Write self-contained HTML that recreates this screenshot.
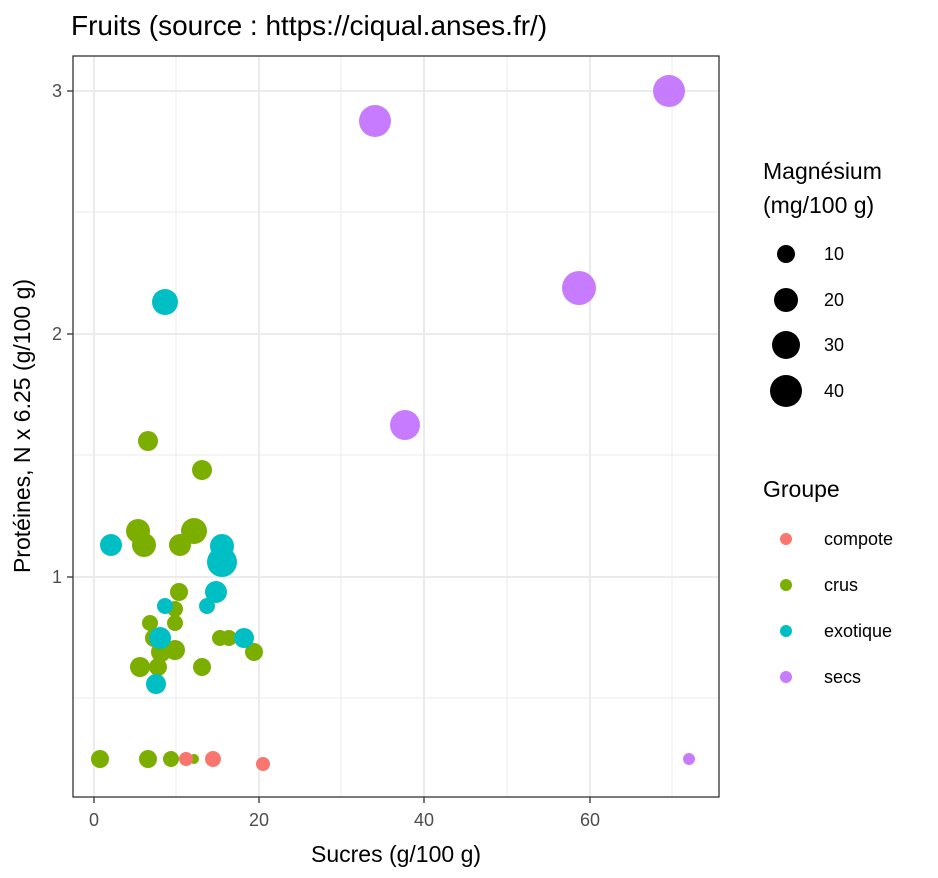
<!DOCTYPE html>
<html><head><meta charset="utf-8"><style>body{margin:0;background:#fff}svg{display:block;font-family:"Liberation Sans",sans-serif}</style></head><body>
<svg width="938" height="878" viewBox="0 0 938 878">
<rect width="938" height="878" fill="#fff"/>
<g stroke="#EBEBEB" stroke-width="1">
<line x1="73" x2="719" y1="212" y2="212"/><line x1="73" x2="719" y1="455" y2="455"/><line x1="73" x2="719" y1="698" y2="698"/>
<line x1="176" x2="176" y1="56" y2="797"/><line x1="341" x2="341" y1="56" y2="797"/><line x1="507" x2="507" y1="56" y2="797"/><line x1="672" x2="672" y1="56" y2="797"/>
</g>
<g stroke="#EBEBEB" stroke-width="2">
<line x1="73" x2="719" y1="91" y2="91"/><line x1="73" x2="719" y1="334" y2="334"/><line x1="73" x2="719" y1="577" y2="577"/>
<line x1="94" x2="94" y1="56" y2="797"/><line x1="259" x2="259" y1="56" y2="797"/><line x1="424" x2="424" y1="56" y2="797"/><line x1="590" x2="590" y1="56" y2="797"/>
</g>
<g fill="#7CAE00">
<circle cx="148" cy="441" r="10"/><circle cx="202" cy="470" r="10"/><circle cx="138" cy="531" r="12"/><circle cx="194" cy="531" r="13"/><circle cx="144" cy="545" r="12"/><circle cx="180" cy="545" r="11"/><circle cx="179" cy="592" r="9"/><circle cx="175" cy="609" r="8"/><circle cx="150" cy="623" r="8"/><circle cx="175" cy="623" r="8"/><circle cx="154" cy="638" r="9"/><circle cx="220" cy="638" r="8"/><circle cx="229" cy="638" r="8"/><circle cx="140" cy="667" r="10"/><circle cx="158" cy="667" r="9"/><circle cx="161" cy="652" r="10"/><circle cx="175" cy="650" r="10"/><circle cx="202" cy="667" r="9"/><circle cx="254" cy="652" r="9"/><circle cx="100" cy="759" r="9"/><circle cx="148" cy="759" r="9"/><circle cx="171" cy="759" r="8"/><circle cx="194" cy="759" r="5"/>
</g>
<g fill="#00BFC4">
<circle cx="165" cy="302" r="13"/><circle cx="111" cy="545" r="11"/><circle cx="222" cy="546" r="12"/><circle cx="222" cy="562" r="15"/><circle cx="216" cy="592" r="11"/><circle cx="207" cy="606" r="8"/><circle cx="165" cy="606" r="8"/><circle cx="160" cy="638" r="11"/><circle cx="244" cy="638" r="10"/><circle cx="156" cy="684" r="10"/>
</g>
<g fill="#F8766D"><circle cx="186" cy="759" r="7"/><circle cx="213" cy="759" r="8"/><circle cx="263" cy="764" r="7"/></g>
<g fill="#C77CFF"><circle cx="375" cy="121" r="16"/><circle cx="669" cy="91" r="16"/><circle cx="579" cy="288" r="17"/><circle cx="405" cy="425" r="15"/><circle cx="689" cy="759" r="6"/></g>
<rect x="73" y="56" width="646" height="741" fill="none" stroke="#333" stroke-width="1.3"/>
<g stroke="#333" stroke-width="1.3">
<line x1="67" x2="73" y1="91" y2="91"/><line x1="67" x2="73" y1="334" y2="334"/><line x1="67" x2="73" y1="577" y2="577"/>
<line x1="94" x2="94" y1="797" y2="803"/><line x1="259" x2="259" y1="797" y2="803"/><line x1="424" x2="424" y1="797" y2="803"/><line x1="590" x2="590" y1="797" y2="803"/>
</g>
<g fill="#4D4D4D" font-size="18">
<text x="62" y="97" text-anchor="end">3</text><text x="62" y="340" text-anchor="end">2</text><text x="62" y="583" text-anchor="end">1</text>
<text x="94" y="826" text-anchor="middle">0</text><text x="259" y="826" text-anchor="middle">20</text><text x="424" y="826" text-anchor="middle">40</text><text x="590" y="826" text-anchor="middle">60</text>
</g>
<text x="396" y="862" font-size="23" text-anchor="middle">Sucres (g/100 g)</text>
<text transform="translate(30,426) rotate(-90)" font-size="23" text-anchor="middle">Protéines, N x 6.25 (g/100 g)</text>
<text x="71" y="35" font-size="28">Fruits (source : https://ciqual.anses.fr/)</text>
<text x="763" y="179" font-size="23">Magnésium</text>
<text x="763" y="213" font-size="23">(mg/100 g)</text>
<circle cx="786" cy="254" r="9"/><circle cx="786" cy="300" r="12"/><circle cx="786" cy="345" r="14"/><circle cx="786" cy="391" r="16"/>
<g font-size="18"><text x="824" y="260">10</text><text x="824" y="306">20</text><text x="824" y="351">30</text><text x="824" y="397">40</text></g>
<text x="763" y="497" font-size="23">Groupe</text>
<circle cx="786" cy="539" r="6" fill="#F8766D"/><circle cx="786" cy="585" r="6" fill="#7CAE00"/><circle cx="786" cy="631" r="6" fill="#00BFC4"/><circle cx="786" cy="677" r="6" fill="#C77CFF"/>
<g font-size="18"><text x="824" y="545">compote</text><text x="824" y="591">crus</text><text x="824" y="637">exotique</text><text x="824" y="683">secs</text></g>
</svg>
</body></html>
